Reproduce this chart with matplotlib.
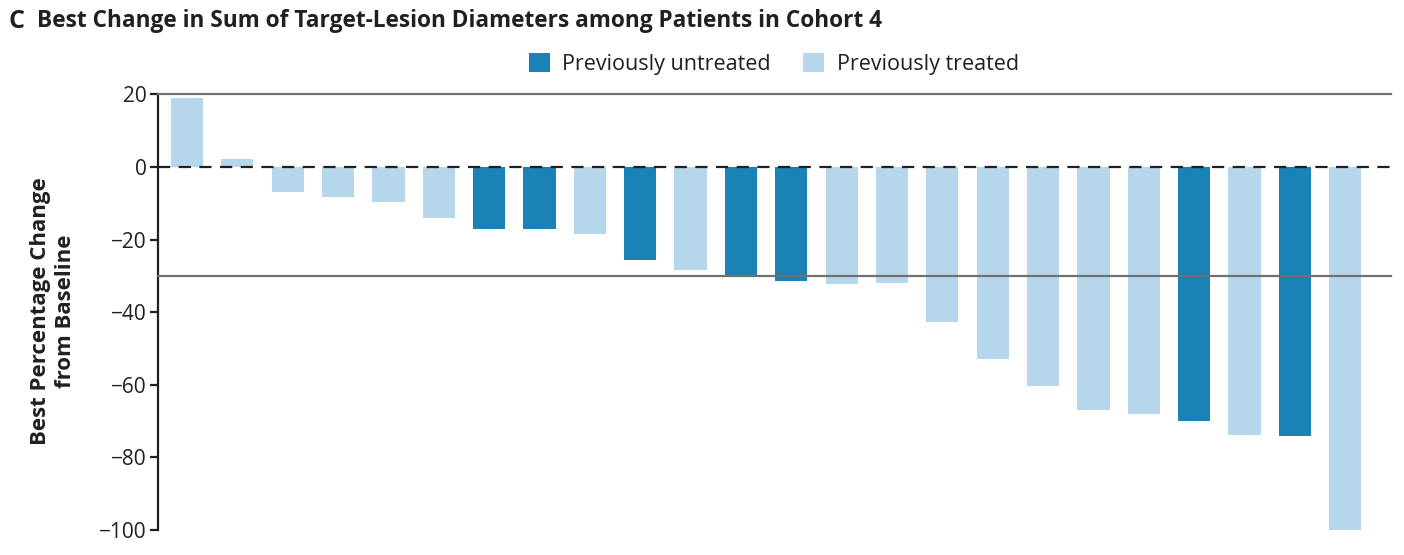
import matplotlib
matplotlib.use("Agg")
import matplotlib.pyplot as plt
from matplotlib.patches import Patch

plt.rcParams['font.family'] = ['Open Sans', 'DejaVu Sans']

# Data
values = [19.0, 2.2, -6.9, -8.3, -9.6, -14.0, -17.1, -17.1, -18.5, -25.6,
          -28.4, -29.8, -31.4, -32.1, -32.0, -42.7, -52.9, -60.3, -66.9, -68.0,
          -69.9, -73.7, -74.0, -100.0]
groups = ['T', 'T', 'T', 'T', 'T', 'T', 'U', 'U', 'T', 'U',
          'T', 'U', 'U', 'T', 'T', 'T', 'T', 'T', 'T', 'T',
          'U', 'T', 'U', 'T']
yticks = [20, 0, -20, -40, -60, -80, -100]
legend_labels = ['Previously untreated', 'Previously treated']

DARK = '#1a82b4'
LIGHT = '#b6d7eb'
INK = '#231f20'
GRAY = '#707070'

fig = plt.figure(figsize=(14.04, 5.55), dpi=100)
ax = fig.add_axes([158/1404, 1-530/555, (1391-158)/1404, (530-94.5)/555])

x = list(range(len(values)))
colors = [DARK if g == 'U' else LIGHT for g in groups]
ax.bar(x, values, width=0.64, color=colors, zorder=1, clip_on=False)

ax.axhline(20, color=GRAY, lw=1.6, zorder=3, clip_on=False)
ax.axhline(-30, color=GRAY, lw=1.6, zorder=3, clip_on=False)
ax.axhline(0, color=INK, lw=1.6, ls=(0, (5.5, 3.8)), zorder=3, clip_on=False)

ax.set_xlim(-0.576, 23.91)
ax.set_ylim(-100, 20)
ax.set_yticks(yticks)
ax.set_yticklabels([f"{t}".replace('-', '\u2212') for t in yticks])
ax.set_xticks([])
for s in ['top', 'right', 'bottom']:
    ax.spines[s].set_visible(False)
ax.spines['left'].set_color(INK)
ax.spines['left'].set_linewidth(1.6)
ax.tick_params(axis='y', length=6, width=1.6, color=INK, labelsize=15,
               labelcolor=INK, pad=2)

fig.text(53/1404, 1-311/555, 'Best Percentage Change\nfrom Baseline', rotation=90,
         ha='center', va='center', fontsize=16, fontweight='bold', color=INK,
         linespacing=1.25)

fig.text(8/1404, 1-21/555, 'C', fontsize=18, fontweight='bold', color=INK,
         ha='left', va='center')
fig.text(37/1404, 1-21/555,
         'Best Change in Sum of Target-Lesion Diameters among Patients in Cohort 4',
         fontsize=16.3, fontweight='bold', color=INK, ha='left', va='center')

handles = [Patch(facecolor=DARK, edgecolor='none'), Patch(facecolor=LIGHT, edgecolor='none')]
fig.legend(handles, legend_labels, loc='center', bbox_to_anchor=(774/1404, 1-64/555),
           ncol=2, frameon=False, fontsize=15.5, handlelength=0.95, handleheight=0.95,
           handletextpad=0.6, columnspacing=1.5, labelcolor=INK)

fig.savefig('out.png', dpi=100)
